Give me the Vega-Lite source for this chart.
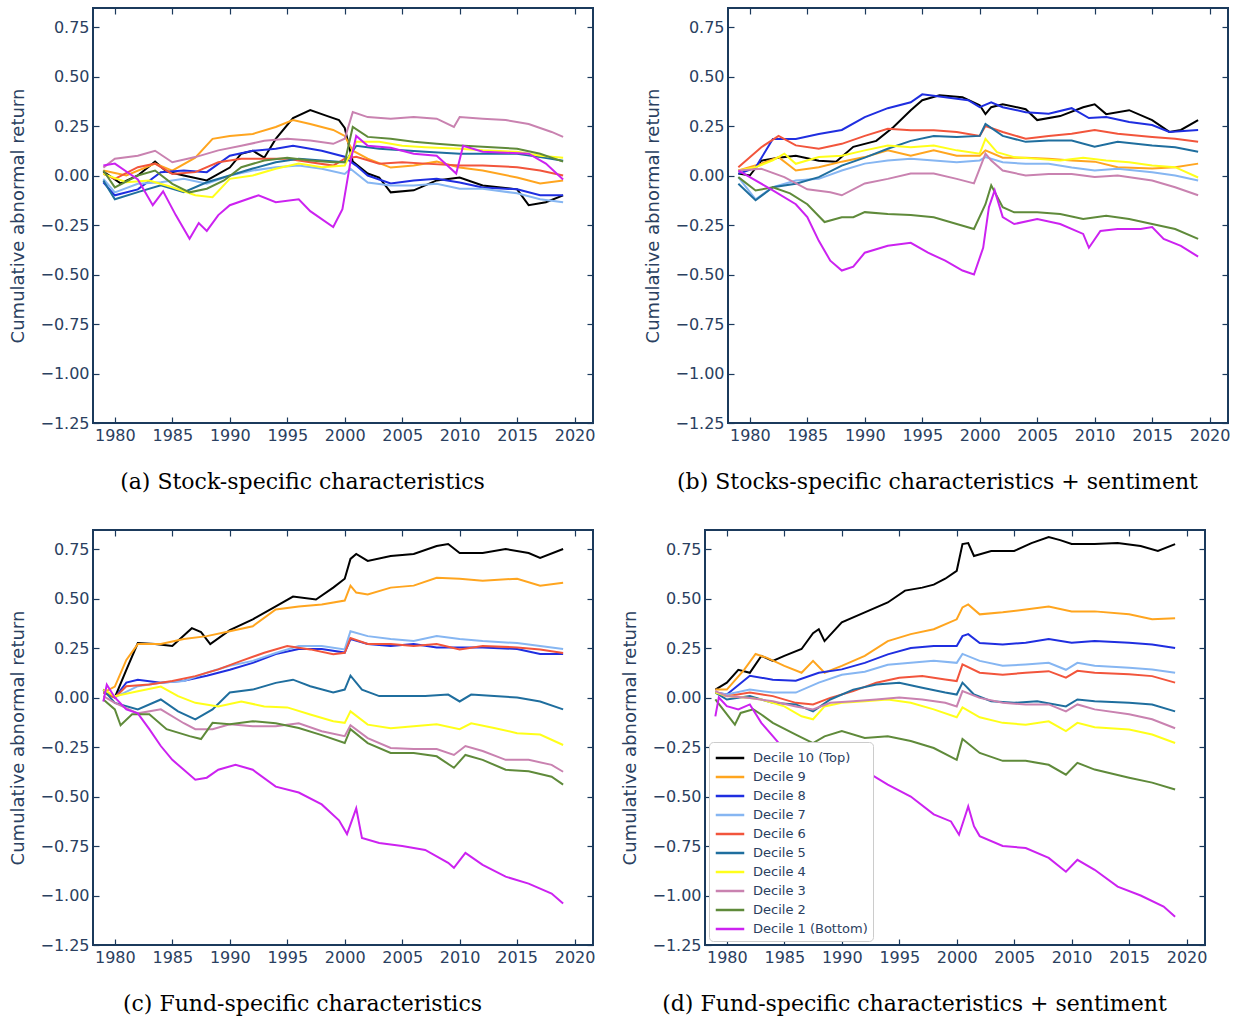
{
"$schema":"https://vega.github.io/schema/vega-lite/v6.json",
"padding":{"left":8,"top":6,"right":4,"bottom":4},
"background":"white",
"config":{
"view":{"stroke":"#1b3a5c","strokeWidth":2},
"font":"DejaVu Sans",
"axis":{"labelFont":"DejaVu Sans","labelFontSize":16,"labelColor":"#2a4060","titleFont":"DejaVu Sans","titleFontSize":18,"titleFontWeight":"normal","titleColor":"#2a4060","titlePadding":12,"domain":false,"grid":false,"tickColor":"#1b3a5c","tickSize":-6,"tickWidth":1.2,"labelPadding":10,"labelFlush":false},
"title":{"font":"DejaVu Serif","fontSize":22,"fontWeight":"normal","color":"#000000","orient":"bottom","anchor":"middle","frame":"bounds","offset":29},
"legend":{"labelFont":"DejaVu Sans","labelFontSize":13,"labelColor":"#2a4060"}
},
"datasets":{
"a":[
{"s":"Decile 10 (Top)","x":1979,"y":0.02},{"s":"Decile 10 (Top)","x":1980.5,"y":-0.04},{"s":"Decile 10 (Top)","x":1982,"y":0.0},{"s":"Decile 10 (Top)","x":1983.5,"y":0.07},{"s":"Decile 10 (Top)","x":1984.5,"y":0.02},{"s":"Decile 10 (Top)","x":1986,"y":0.0},{"s":"Decile 10 (Top)","x":1988,"y":-0.025},{"s":"Decile 10 (Top)","x":1990,"y":0.04},{"s":"Decile 10 (Top)","x":1991,"y":0.11},{"s":"Decile 10 (Top)","x":1992,"y":0.125},{"s":"Decile 10 (Top)","x":1993,"y":0.09},{"s":"Decile 10 (Top)","x":1994,"y":0.185},{"s":"Decile 10 (Top)","x":1995.5,"y":0.29},{"s":"Decile 10 (Top)","x":1997,"y":0.33},{"s":"Decile 10 (Top)","x":1998.5,"y":0.3},{"s":"Decile 10 (Top)","x":1999.5,"y":0.28},{"s":"Decile 10 (Top)","x":2000,"y":0.24},{"s":"Decile 10 (Top)","x":2000.7,"y":0.07},{"s":"Decile 10 (Top)","x":2002,"y":0.01},{"s":"Decile 10 (Top)","x":2003,"y":-0.01},{"s":"Decile 10 (Top)","x":2004,"y":-0.085},{"s":"Decile 10 (Top)","x":2006,"y":-0.075},{"s":"Decile 10 (Top)","x":2008,"y":-0.025},{"s":"Decile 10 (Top)","x":2010,"y":-0.01},{"s":"Decile 10 (Top)","x":2012,"y":-0.05},{"s":"Decile 10 (Top)","x":2015,"y":-0.07},{"s":"Decile 10 (Top)","x":2016,"y":-0.15},{"s":"Decile 10 (Top)","x":2017.5,"y":-0.135},{"s":"Decile 10 (Top)","x":2019,"y":-0.1},
{"s":"Decile 9","x":1979,"y":0.025},{"s":"Decile 9","x":1981,"y":0.0},{"s":"Decile 9","x":1983.5,"y":0.06},{"s":"Decile 9","x":1985,"y":0.025},{"s":"Decile 9","x":1987,"y":0.09},{"s":"Decile 9","x":1988.5,"y":0.185},{"s":"Decile 9","x":1990,"y":0.2},{"s":"Decile 9","x":1992,"y":0.21},{"s":"Decile 9","x":1994,"y":0.245},{"s":"Decile 9","x":1995.5,"y":0.28},{"s":"Decile 9","x":1997,"y":0.26},{"s":"Decile 9","x":1999,"y":0.23},{"s":"Decile 9","x":2000,"y":0.2},{"s":"Decile 9","x":2000.7,"y":0.125},{"s":"Decile 9","x":2002,"y":0.085},{"s":"Decile 9","x":2004,"y":0.04},{"s":"Decile 9","x":2006,"y":0.05},{"s":"Decile 9","x":2008,"y":0.07},{"s":"Decile 9","x":2010,"y":0.04},{"s":"Decile 9","x":2012,"y":0.025},{"s":"Decile 9","x":2015,"y":-0.01},{"s":"Decile 9","x":2017,"y":-0.04},{"s":"Decile 9","x":2019,"y":-0.025},
{"s":"Decile 8","x":1979,"y":-0.035},{"s":"Decile 8","x":1980,"y":-0.1},{"s":"Decile 8","x":1982,"y":-0.07},{"s":"Decile 8","x":1984,"y":0.017},{"s":"Decile 8","x":1986,"y":0.025},{"s":"Decile 8","x":1988,"y":0.017},{"s":"Decile 8","x":1990,"y":0.1},{"s":"Decile 8","x":1992,"y":0.125},{"s":"Decile 8","x":1994,"y":0.135},{"s":"Decile 8","x":1995.5,"y":0.15},{"s":"Decile 8","x":1998,"y":0.125},{"s":"Decile 8","x":2000,"y":0.095},{"s":"Decile 8","x":2000.5,"y":0.07},{"s":"Decile 8","x":2001,"y":0.05},{"s":"Decile 8","x":2002,"y":0.0},{"s":"Decile 8","x":2004,"y":-0.04},{"s":"Decile 8","x":2006,"y":-0.025},{"s":"Decile 8","x":2008,"y":-0.017},{"s":"Decile 8","x":2010,"y":-0.035},{"s":"Decile 8","x":2012,"y":-0.06},{"s":"Decile 8","x":2015,"y":-0.07},{"s":"Decile 8","x":2017,"y":-0.1},{"s":"Decile 8","x":2019,"y":-0.1},
{"s":"Decile 7","x":1979,"y":-0.017},{"s":"Decile 7","x":1980,"y":-0.085},{"s":"Decile 7","x":1982,"y":-0.042},{"s":"Decile 7","x":1984,"y":-0.034},{"s":"Decile 7","x":1986,"y":-0.017},{"s":"Decile 7","x":1988,"y":-0.042},{"s":"Decile 7","x":1990,"y":0.0},{"s":"Decile 7","x":1992,"y":0.025},{"s":"Decile 7","x":1994,"y":0.042},{"s":"Decile 7","x":1996,"y":0.05},{"s":"Decile 7","x":1998,"y":0.034},{"s":"Decile 7","x":2000,"y":0.008},{"s":"Decile 7","x":2000.5,"y":0.034},{"s":"Decile 7","x":2002,"y":-0.035},{"s":"Decile 7","x":2004,"y":-0.05},{"s":"Decile 7","x":2006,"y":-0.05},{"s":"Decile 7","x":2008,"y":-0.042},{"s":"Decile 7","x":2010,"y":-0.067},{"s":"Decile 7","x":2012,"y":-0.067},{"s":"Decile 7","x":2015,"y":-0.09},{"s":"Decile 7","x":2017,"y":-0.12},{"s":"Decile 7","x":2019,"y":-0.135},
{"s":"Decile 6","x":1979,"y":0.008},{"s":"Decile 6","x":1980,"y":-0.017},{"s":"Decile 6","x":1982,"y":0.042},{"s":"Decile 6","x":1983.5,"y":0.06},{"s":"Decile 6","x":1985,"y":0.008},{"s":"Decile 6","x":1987,"y":0.017},{"s":"Decile 6","x":1989,"y":0.067},{"s":"Decile 6","x":1991,"y":0.085},{"s":"Decile 6","x":1993,"y":0.085},{"s":"Decile 6","x":1995,"y":0.085},{"s":"Decile 6","x":1997,"y":0.067},{"s":"Decile 6","x":1999,"y":0.05},{"s":"Decile 6","x":2000,"y":0.085},{"s":"Decile 6","x":2001,"y":0.095},{"s":"Decile 6","x":2003,"y":0.06},{"s":"Decile 6","x":2005,"y":0.067},{"s":"Decile 6","x":2007,"y":0.06},{"s":"Decile 6","x":2010,"y":0.05},{"s":"Decile 6","x":2012,"y":0.05},{"s":"Decile 6","x":2015,"y":0.042},{"s":"Decile 6","x":2017,"y":0.025},{"s":"Decile 6","x":2019,"y":0.0},
{"s":"Decile 5","x":1979,"y":-0.025},{"s":"Decile 5","x":1980,"y":-0.12},{"s":"Decile 5","x":1982,"y":-0.084},{"s":"Decile 5","x":1984,"y":-0.05},{"s":"Decile 5","x":1986,"y":-0.084},{"s":"Decile 5","x":1988,"y":-0.034},{"s":"Decile 5","x":1990,"y":0.0},{"s":"Decile 5","x":1992,"y":0.035},{"s":"Decile 5","x":1994,"y":0.067},{"s":"Decile 5","x":1996,"y":0.085},{"s":"Decile 5","x":1998,"y":0.076},{"s":"Decile 5","x":2000,"y":0.067},{"s":"Decile 5","x":2001,"y":0.15},{"s":"Decile 5","x":2003,"y":0.135},{"s":"Decile 5","x":2005,"y":0.127},{"s":"Decile 5","x":2007,"y":0.12},{"s":"Decile 5","x":2010,"y":0.11},{"s":"Decile 5","x":2012,"y":0.11},{"s":"Decile 5","x":2015,"y":0.11},{"s":"Decile 5","x":2017,"y":0.093},{"s":"Decile 5","x":2019,"y":0.075},
{"s":"Decile 4","x":1979,"y":0.008},{"s":"Decile 4","x":1981,"y":-0.034},{"s":"Decile 4","x":1983,"y":-0.025},{"s":"Decile 4","x":1985,"y":-0.059},{"s":"Decile 4","x":1987,"y":-0.1},{"s":"Decile 4","x":1988.5,"y":-0.11},{"s":"Decile 4","x":1990,"y":-0.017},{"s":"Decile 4","x":1992,"y":0.0},{"s":"Decile 4","x":1994,"y":0.034},{"s":"Decile 4","x":1996,"y":0.06},{"s":"Decile 4","x":1998,"y":0.042},{"s":"Decile 4","x":2000,"y":0.05},{"s":"Decile 4","x":2001,"y":0.17},{"s":"Decile 4","x":2003,"y":0.17},{"s":"Decile 4","x":2005,"y":0.15},{"s":"Decile 4","x":2007,"y":0.143},{"s":"Decile 4","x":2010,"y":0.135},{"s":"Decile 4","x":2012,"y":0.127},{"s":"Decile 4","x":2015,"y":0.12},{"s":"Decile 4","x":2017,"y":0.1},{"s":"Decile 4","x":2019,"y":0.09},
{"s":"Decile 3","x":1979,"y":0.04},{"s":"Decile 3","x":1980,"y":0.085},{"s":"Decile 3","x":1982,"y":0.1},{"s":"Decile 3","x":1983.5,"y":0.125},{"s":"Decile 3","x":1985,"y":0.067},{"s":"Decile 3","x":1987,"y":0.093},{"s":"Decile 3","x":1989,"y":0.127},{"s":"Decile 3","x":1991,"y":0.15},{"s":"Decile 3","x":1993,"y":0.175},{"s":"Decile 3","x":1995,"y":0.185},{"s":"Decile 3","x":1997,"y":0.177},{"s":"Decile 3","x":1999,"y":0.16},{"s":"Decile 3","x":2000,"y":0.186},{"s":"Decile 3","x":2000.7,"y":0.32},{"s":"Decile 3","x":2002,"y":0.295},{"s":"Decile 3","x":2004,"y":0.287},{"s":"Decile 3","x":2006,"y":0.295},{"s":"Decile 3","x":2008,"y":0.287},{"s":"Decile 3","x":2009.5,"y":0.245},{"s":"Decile 3","x":2010,"y":0.295},{"s":"Decile 3","x":2012,"y":0.287},{"s":"Decile 3","x":2014,"y":0.28},{"s":"Decile 3","x":2016,"y":0.26},{"s":"Decile 3","x":2018,"y":0.22},{"s":"Decile 3","x":2019,"y":0.195},
{"s":"Decile 2","x":1979,"y":0.025},{"s":"Decile 2","x":1980,"y":-0.06},{"s":"Decile 2","x":1982,"y":0.0},{"s":"Decile 2","x":1983.5,"y":0.025},{"s":"Decile 2","x":1985,"y":-0.042},{"s":"Decile 2","x":1986.5,"y":-0.085},{"s":"Decile 2","x":1988,"y":-0.067},{"s":"Decile 2","x":1989.5,"y":-0.025},{"s":"Decile 2","x":1991,"y":0.042},{"s":"Decile 2","x":1993,"y":0.076},{"s":"Decile 2","x":1995,"y":0.09},{"s":"Decile 2","x":1997,"y":0.076},{"s":"Decile 2","x":1999,"y":0.067},{"s":"Decile 2","x":2000,"y":0.067},{"s":"Decile 2","x":2000.7,"y":0.245},{"s":"Decile 2","x":2002,"y":0.195},{"s":"Decile 2","x":2004,"y":0.186},{"s":"Decile 2","x":2006,"y":0.17},{"s":"Decile 2","x":2008,"y":0.16},{"s":"Decile 2","x":2010,"y":0.152},{"s":"Decile 2","x":2012,"y":0.145},{"s":"Decile 2","x":2015,"y":0.135},{"s":"Decile 2","x":2017,"y":0.11},{"s":"Decile 2","x":2019,"y":0.07},
{"s":"Decile 1 (Bottom)","x":1979,"y":0.05},{"s":"Decile 1 (Bottom)","x":1980,"y":0.06},{"s":"Decile 1 (Bottom)","x":1981,"y":0.02},{"s":"Decile 1 (Bottom)","x":1982,"y":-0.02},{"s":"Decile 1 (Bottom)","x":1983.3,"y":-0.15},{"s":"Decile 1 (Bottom)","x":1984.2,"y":-0.08},{"s":"Decile 1 (Bottom)","x":1985.3,"y":-0.2},{"s":"Decile 1 (Bottom)","x":1986.5,"y":-0.32},{"s":"Decile 1 (Bottom)","x":1987.3,"y":-0.24},{"s":"Decile 1 (Bottom)","x":1988,"y":-0.28},{"s":"Decile 1 (Bottom)","x":1989,"y":-0.2},{"s":"Decile 1 (Bottom)","x":1990,"y":-0.15},{"s":"Decile 1 (Bottom)","x":1992.5,"y":-0.1},{"s":"Decile 1 (Bottom)","x":1994,"y":-0.135},{"s":"Decile 1 (Bottom)","x":1996,"y":-0.12},{"s":"Decile 1 (Bottom)","x":1997,"y":-0.18},{"s":"Decile 1 (Bottom)","x":1999,"y":-0.26},{"s":"Decile 1 (Bottom)","x":1999.8,"y":-0.17},{"s":"Decile 1 (Bottom)","x":2000.5,"y":0.07},{"s":"Decile 1 (Bottom)","x":2001,"y":0.2},{"s":"Decile 1 (Bottom)","x":2002,"y":0.15},{"s":"Decile 1 (Bottom)","x":2004,"y":0.14},{"s":"Decile 1 (Bottom)","x":2006,"y":0.11},{"s":"Decile 1 (Bottom)","x":2008,"y":0.1},{"s":"Decile 1 (Bottom)","x":2009.7,"y":0.01},{"s":"Decile 1 (Bottom)","x":2010.3,"y":0.15},{"s":"Decile 1 (Bottom)","x":2012,"y":0.12},{"s":"Decile 1 (Bottom)","x":2014,"y":0.115},{"s":"Decile 1 (Bottom)","x":2016,"y":0.11},{"s":"Decile 1 (Bottom)","x":2017.5,"y":0.06},{"s":"Decile 1 (Bottom)","x":2019,"y":-0.02}
],
"b":[
{"s":"Decile 10 (Top)","x":1979,"y":0.01},{"s":"Decile 10 (Top)","x":1980,"y":0.0},{"s":"Decile 10 (Top)","x":1981,"y":0.075},{"s":"Decile 10 (Top)","x":1982.5,"y":0.09},{"s":"Decile 10 (Top)","x":1984,"y":0.1},{"s":"Decile 10 (Top)","x":1986,"y":0.075},{"s":"Decile 10 (Top)","x":1987.5,"y":0.07},{"s":"Decile 10 (Top)","x":1989,"y":0.145},{"s":"Decile 10 (Top)","x":1991,"y":0.175},{"s":"Decile 10 (Top)","x":1992.5,"y":0.245},{"s":"Decile 10 (Top)","x":1994,"y":0.33},{"s":"Decile 10 (Top)","x":1995,"y":0.38},{"s":"Decile 10 (Top)","x":1996.5,"y":0.405},{"s":"Decile 10 (Top)","x":1998.5,"y":0.395},{"s":"Decile 10 (Top)","x":2000,"y":0.355},{"s":"Decile 10 (Top)","x":2000.5,"y":0.31},{"s":"Decile 10 (Top)","x":2001,"y":0.345},{"s":"Decile 10 (Top)","x":2002,"y":0.36},{"s":"Decile 10 (Top)","x":2004,"y":0.335},{"s":"Decile 10 (Top)","x":2005,"y":0.28},{"s":"Decile 10 (Top)","x":2007,"y":0.3},{"s":"Decile 10 (Top)","x":2009,"y":0.345},{"s":"Decile 10 (Top)","x":2010,"y":0.36},{"s":"Decile 10 (Top)","x":2011,"y":0.31},{"s":"Decile 10 (Top)","x":2013,"y":0.33},{"s":"Decile 10 (Top)","x":2015,"y":0.28},{"s":"Decile 10 (Top)","x":2016.5,"y":0.22},{"s":"Decile 10 (Top)","x":2017.5,"y":0.23},{"s":"Decile 10 (Top)","x":2019,"y":0.28},
{"s":"Decile 9","x":1979,"y":0.025},{"s":"Decile 9","x":1981,"y":0.06},{"s":"Decile 9","x":1982.5,"y":0.093},{"s":"Decile 9","x":1984,"y":0.025},{"s":"Decile 9","x":1986,"y":0.042},{"s":"Decile 9","x":1988,"y":0.07},{"s":"Decile 9","x":1990,"y":0.093},{"s":"Decile 9","x":1992,"y":0.127},{"s":"Decile 9","x":1994,"y":0.1},{"s":"Decile 9","x":1996,"y":0.127},{"s":"Decile 9","x":1998,"y":0.1},{"s":"Decile 9","x":2000,"y":0.1},{"s":"Decile 9","x":2000.5,"y":0.127},{"s":"Decile 9","x":2002,"y":0.09},{"s":"Decile 9","x":2004,"y":0.09},{"s":"Decile 9","x":2006,"y":0.084},{"s":"Decile 9","x":2008,"y":0.076},{"s":"Decile 9","x":2010,"y":0.07},{"s":"Decile 9","x":2012,"y":0.042},{"s":"Decile 9","x":2015,"y":0.035},{"s":"Decile 9","x":2017,"y":0.042},{"s":"Decile 9","x":2019,"y":0.06},
{"s":"Decile 8","x":1979,"y":0.008},{"s":"Decile 8","x":1980.5,"y":0.04},{"s":"Decile 8","x":1982,"y":0.185},{"s":"Decile 8","x":1984,"y":0.185},{"s":"Decile 8","x":1986,"y":0.21},{"s":"Decile 8","x":1988,"y":0.23},{"s":"Decile 8","x":1990,"y":0.295},{"s":"Decile 8","x":1992,"y":0.34},{"s":"Decile 8","x":1994,"y":0.37},{"s":"Decile 8","x":1995,"y":0.41},{"s":"Decile 8","x":1997,"y":0.395},{"s":"Decile 8","x":1999,"y":0.38},{"s":"Decile 8","x":2000,"y":0.345},{"s":"Decile 8","x":2001,"y":0.37},{"s":"Decile 8","x":2002,"y":0.345},{"s":"Decile 8","x":2004,"y":0.32},{"s":"Decile 8","x":2006,"y":0.312},{"s":"Decile 8","x":2008,"y":0.34},{"s":"Decile 8","x":2009.5,"y":0.29},{"s":"Decile 8","x":2011,"y":0.295},{"s":"Decile 8","x":2013,"y":0.27},{"s":"Decile 8","x":2015,"y":0.255},{"s":"Decile 8","x":2016.5,"y":0.22},{"s":"Decile 8","x":2019,"y":0.23},
{"s":"Decile 7","x":1979,"y":-0.008},{"s":"Decile 7","x":1980.5,"y":-0.12},{"s":"Decile 7","x":1982,"y":-0.059},{"s":"Decile 7","x":1984,"y":-0.025},{"s":"Decile 7","x":1986,"y":-0.017},{"s":"Decile 7","x":1988,"y":0.025},{"s":"Decile 7","x":1990,"y":0.06},{"s":"Decile 7","x":1992,"y":0.076},{"s":"Decile 7","x":1994,"y":0.085},{"s":"Decile 7","x":1996,"y":0.076},{"s":"Decile 7","x":1998,"y":0.067},{"s":"Decile 7","x":2000,"y":0.076},{"s":"Decile 7","x":2000.5,"y":0.093},{"s":"Decile 7","x":2002,"y":0.067},{"s":"Decile 7","x":2004,"y":0.059},{"s":"Decile 7","x":2006,"y":0.059},{"s":"Decile 7","x":2008,"y":0.04},{"s":"Decile 7","x":2010,"y":0.025},{"s":"Decile 7","x":2012,"y":0.034},{"s":"Decile 7","x":2015,"y":0.017},{"s":"Decile 7","x":2017,"y":0.0},{"s":"Decile 7","x":2019,"y":-0.025},
{"s":"Decile 6","x":1979,"y":0.042},{"s":"Decile 6","x":1981,"y":0.143},{"s":"Decile 6","x":1982.5,"y":0.2},{"s":"Decile 6","x":1984,"y":0.152},{"s":"Decile 6","x":1986,"y":0.135},{"s":"Decile 6","x":1988,"y":0.16},{"s":"Decile 6","x":1990,"y":0.2},{"s":"Decile 6","x":1992,"y":0.236},{"s":"Decile 6","x":1994,"y":0.228},{"s":"Decile 6","x":1996,"y":0.228},{"s":"Decile 6","x":1998,"y":0.22},{"s":"Decile 6","x":2000,"y":0.2},{"s":"Decile 6","x":2000.5,"y":0.25},{"s":"Decile 6","x":2002,"y":0.22},{"s":"Decile 6","x":2004,"y":0.186},{"s":"Decile 6","x":2006,"y":0.2},{"s":"Decile 6","x":2008,"y":0.211},{"s":"Decile 6","x":2010,"y":0.23},{"s":"Decile 6","x":2012,"y":0.211},{"s":"Decile 6","x":2015,"y":0.195},{"s":"Decile 6","x":2017,"y":0.186},{"s":"Decile 6","x":2019,"y":0.17},
{"s":"Decile 5","x":1979,"y":-0.042},{"s":"Decile 5","x":1980.5,"y":-0.125},{"s":"Decile 5","x":1982,"y":-0.059},{"s":"Decile 5","x":1984,"y":-0.042},{"s":"Decile 5","x":1986,"y":-0.008},{"s":"Decile 5","x":1988,"y":0.05},{"s":"Decile 5","x":1990,"y":0.09},{"s":"Decile 5","x":1992,"y":0.135},{"s":"Decile 5","x":1994,"y":0.175},{"s":"Decile 5","x":1996,"y":0.2},{"s":"Decile 5","x":1998,"y":0.194},{"s":"Decile 5","x":2000,"y":0.2},{"s":"Decile 5","x":2000.5,"y":0.26},{"s":"Decile 5","x":2002,"y":0.2},{"s":"Decile 5","x":2004,"y":0.17},{"s":"Decile 5","x":2006,"y":0.177},{"s":"Decile 5","x":2008,"y":0.177},{"s":"Decile 5","x":2010,"y":0.145},{"s":"Decile 5","x":2012,"y":0.17},{"s":"Decile 5","x":2015,"y":0.152},{"s":"Decile 5","x":2017,"y":0.143},{"s":"Decile 5","x":2019,"y":0.12},
{"s":"Decile 4","x":1979,"y":0.025},{"s":"Decile 4","x":1980.5,"y":0.042},{"s":"Decile 4","x":1982,"y":0.076},{"s":"Decile 4","x":1983,"y":0.11},{"s":"Decile 4","x":1984,"y":0.059},{"s":"Decile 4","x":1986,"y":0.093},{"s":"Decile 4","x":1988,"y":0.1},{"s":"Decile 4","x":1990,"y":0.127},{"s":"Decile 4","x":1992,"y":0.152},{"s":"Decile 4","x":1994,"y":0.143},{"s":"Decile 4","x":1996,"y":0.152},{"s":"Decile 4","x":1998,"y":0.127},{"s":"Decile 4","x":2000,"y":0.11},{"s":"Decile 4","x":2000.5,"y":0.185},{"s":"Decile 4","x":2001.5,"y":0.118},{"s":"Decile 4","x":2003,"y":0.093},{"s":"Decile 4","x":2005,"y":0.084},{"s":"Decile 4","x":2007,"y":0.076},{"s":"Decile 4","x":2009,"y":0.09},{"s":"Decile 4","x":2011,"y":0.076},{"s":"Decile 4","x":2013,"y":0.067},{"s":"Decile 4","x":2015,"y":0.05},{"s":"Decile 4","x":2017,"y":0.042},{"s":"Decile 4","x":2019,"y":-0.01},
{"s":"Decile 3","x":1979,"y":0.025},{"s":"Decile 3","x":1981,"y":0.034},{"s":"Decile 3","x":1983,"y":-0.008},{"s":"Decile 3","x":1985,"y":-0.07},{"s":"Decile 3","x":1987,"y":-0.085},{"s":"Decile 3","x":1988,"y":-0.1},{"s":"Decile 3","x":1990,"y":-0.04},{"s":"Decile 3","x":1992,"y":-0.017},{"s":"Decile 3","x":1994,"y":0.01},{"s":"Decile 3","x":1996,"y":0.01},{"s":"Decile 3","x":1998,"y":-0.017},{"s":"Decile 3","x":1999.5,"y":-0.04},{"s":"Decile 3","x":2000.5,"y":0.11},{"s":"Decile 3","x":2001,"y":0.076},{"s":"Decile 3","x":2002,"y":0.025},{"s":"Decile 3","x":2004,"y":0.0},{"s":"Decile 3","x":2006,"y":0.008},{"s":"Decile 3","x":2008,"y":0.008},{"s":"Decile 3","x":2010,"y":-0.008},{"s":"Decile 3","x":2012,"y":0.0},{"s":"Decile 3","x":2015,"y":-0.025},{"s":"Decile 3","x":2017,"y":-0.059},{"s":"Decile 3","x":2019,"y":-0.1},
{"s":"Decile 2","x":1979,"y":-0.008},{"s":"Decile 2","x":1980.5,"y":-0.076},{"s":"Decile 2","x":1982,"y":-0.059},{"s":"Decile 2","x":1983.5,"y":-0.09},{"s":"Decile 2","x":1985,"y":-0.145},{"s":"Decile 2","x":1986.5,"y":-0.235},{"s":"Decile 2","x":1988,"y":-0.211},{"s":"Decile 2","x":1989,"y":-0.211},{"s":"Decile 2","x":1990,"y":-0.185},{"s":"Decile 2","x":1992,"y":-0.194},{"s":"Decile 2","x":1994,"y":-0.2},{"s":"Decile 2","x":1996,"y":-0.211},{"s":"Decile 2","x":1998,"y":-0.245},{"s":"Decile 2","x":1999.5,"y":-0.27},{"s":"Decile 2","x":2000.5,"y":-0.145},{"s":"Decile 2","x":2001,"y":-0.05},{"s":"Decile 2","x":2002,"y":-0.16},{"s":"Decile 2","x":2003,"y":-0.186},{"s":"Decile 2","x":2005,"y":-0.185},{"s":"Decile 2","x":2007,"y":-0.194},{"s":"Decile 2","x":2009,"y":-0.22},{"s":"Decile 2","x":2011,"y":-0.203},{"s":"Decile 2","x":2013,"y":-0.22},{"s":"Decile 2","x":2015,"y":-0.245},{"s":"Decile 2","x":2017,"y":-0.27},{"s":"Decile 2","x":2019,"y":-0.32},
{"s":"Decile 1 (Bottom)","x":1979,"y":0.025},{"s":"Decile 1 (Bottom)","x":1980,"y":-0.008},{"s":"Decile 1 (Bottom)","x":1982,"y":-0.075},{"s":"Decile 1 (Bottom)","x":1984,"y":-0.145},{"s":"Decile 1 (Bottom)","x":1985,"y":-0.21},{"s":"Decile 1 (Bottom)","x":1986,"y":-0.33},{"s":"Decile 1 (Bottom)","x":1987,"y":-0.43},{"s":"Decile 1 (Bottom)","x":1988,"y":-0.48},{"s":"Decile 1 (Bottom)","x":1989,"y":-0.46},{"s":"Decile 1 (Bottom)","x":1990,"y":-0.39},{"s":"Decile 1 (Bottom)","x":1992,"y":-0.355},{"s":"Decile 1 (Bottom)","x":1994,"y":-0.34},{"s":"Decile 1 (Bottom)","x":1995.5,"y":-0.39},{"s":"Decile 1 (Bottom)","x":1997,"y":-0.43},{"s":"Decile 1 (Bottom)","x":1998.5,"y":-0.48},{"s":"Decile 1 (Bottom)","x":1999.5,"y":-0.5},{"s":"Decile 1 (Bottom)","x":2000.3,"y":-0.365},{"s":"Decile 1 (Bottom)","x":2000.8,"y":-0.16},{"s":"Decile 1 (Bottom)","x":2001.3,"y":-0.075},{"s":"Decile 1 (Bottom)","x":2002,"y":-0.21},{"s":"Decile 1 (Bottom)","x":2003,"y":-0.245},{"s":"Decile 1 (Bottom)","x":2005,"y":-0.22},{"s":"Decile 1 (Bottom)","x":2007,"y":-0.245},{"s":"Decile 1 (Bottom)","x":2009,"y":-0.295},{"s":"Decile 1 (Bottom)","x":2009.5,"y":-0.365},{"s":"Decile 1 (Bottom)","x":2010.5,"y":-0.28},{"s":"Decile 1 (Bottom)","x":2012,"y":-0.27},{"s":"Decile 1 (Bottom)","x":2014,"y":-0.27},{"s":"Decile 1 (Bottom)","x":2015,"y":-0.26},{"s":"Decile 1 (Bottom)","x":2016,"y":-0.32},{"s":"Decile 1 (Bottom)","x":2017.5,"y":-0.355},{"s":"Decile 1 (Bottom)","x":2019,"y":-0.41}
],
"c":[
{"s":"Decile 10 (Top)","x":1979,"y":0.04},{"s":"Decile 10 (Top)","x":1980,"y":0.0},{"s":"Decile 10 (Top)","x":1981,"y":0.14},{"s":"Decile 10 (Top)","x":1982,"y":0.275},{"s":"Decile 10 (Top)","x":1983.5,"y":0.27},{"s":"Decile 10 (Top)","x":1985,"y":0.26},{"s":"Decile 10 (Top)","x":1986.7,"y":0.35},{"s":"Decile 10 (Top)","x":1987.5,"y":0.33},{"s":"Decile 10 (Top)","x":1988.3,"y":0.27},{"s":"Decile 10 (Top)","x":1990,"y":0.34},{"s":"Decile 10 (Top)","x":1992,"y":0.395},{"s":"Decile 10 (Top)","x":1994,"y":0.46},{"s":"Decile 10 (Top)","x":1995.5,"y":0.51},{"s":"Decile 10 (Top)","x":1997.5,"y":0.495},{"s":"Decile 10 (Top)","x":1999,"y":0.555},{"s":"Decile 10 (Top)","x":2000,"y":0.6},{"s":"Decile 10 (Top)","x":2000.5,"y":0.7},{"s":"Decile 10 (Top)","x":2001,"y":0.725},{"s":"Decile 10 (Top)","x":2002,"y":0.69},{"s":"Decile 10 (Top)","x":2004,"y":0.715},{"s":"Decile 10 (Top)","x":2006,"y":0.725},{"s":"Decile 10 (Top)","x":2008,"y":0.765},{"s":"Decile 10 (Top)","x":2009,"y":0.775},{"s":"Decile 10 (Top)","x":2010,"y":0.73},{"s":"Decile 10 (Top)","x":2012,"y":0.73},{"s":"Decile 10 (Top)","x":2014,"y":0.75},{"s":"Decile 10 (Top)","x":2016,"y":0.73},{"s":"Decile 10 (Top)","x":2017,"y":0.705},{"s":"Decile 10 (Top)","x":2019,"y":0.75},
{"s":"Decile 9","x":1979,"y":0.025},{"s":"Decile 9","x":1980,"y":0.055},{"s":"Decile 9","x":1981,"y":0.19},{"s":"Decile 9","x":1982,"y":0.27},{"s":"Decile 9","x":1984,"y":0.27},{"s":"Decile 9","x":1986,"y":0.295},{"s":"Decile 9","x":1988,"y":0.31},{"s":"Decile 9","x":1990,"y":0.335},{"s":"Decile 9","x":1992,"y":0.36},{"s":"Decile 9","x":1994,"y":0.445},{"s":"Decile 9","x":1996,"y":0.46},{"s":"Decile 9","x":1998,"y":0.47},{"s":"Decile 9","x":2000,"y":0.49},{"s":"Decile 9","x":2000.5,"y":0.565},{"s":"Decile 9","x":2001,"y":0.53},{"s":"Decile 9","x":2002,"y":0.52},{"s":"Decile 9","x":2004,"y":0.555},{"s":"Decile 9","x":2006,"y":0.565},{"s":"Decile 9","x":2008,"y":0.605},{"s":"Decile 9","x":2010,"y":0.6},{"s":"Decile 9","x":2012,"y":0.59},{"s":"Decile 9","x":2015,"y":0.6},{"s":"Decile 9","x":2017,"y":0.565},{"s":"Decile 9","x":2019,"y":0.58},
{"s":"Decile 8","x":1979,"y":0.025},{"s":"Decile 8","x":1980,"y":0.0},{"s":"Decile 8","x":1981,"y":0.075},{"s":"Decile 8","x":1982,"y":0.09},{"s":"Decile 8","x":1984,"y":0.075},{"s":"Decile 8","x":1986,"y":0.085},{"s":"Decile 8","x":1988,"y":0.11},{"s":"Decile 8","x":1990,"y":0.14},{"s":"Decile 8","x":1992,"y":0.175},{"s":"Decile 8","x":1994,"y":0.22},{"s":"Decile 8","x":1996,"y":0.245},{"s":"Decile 8","x":1998,"y":0.245},{"s":"Decile 8","x":2000,"y":0.227},{"s":"Decile 8","x":2000.5,"y":0.295},{"s":"Decile 8","x":2002,"y":0.27},{"s":"Decile 8","x":2004,"y":0.26},{"s":"Decile 8","x":2006,"y":0.27},{"s":"Decile 8","x":2008,"y":0.253},{"s":"Decile 8","x":2010,"y":0.253},{"s":"Decile 8","x":2012,"y":0.253},{"s":"Decile 8","x":2015,"y":0.245},{"s":"Decile 8","x":2017,"y":0.22},{"s":"Decile 8","x":2019,"y":0.22},
{"s":"Decile 7","x":1979,"y":0.025},{"s":"Decile 7","x":1980,"y":0.0},{"s":"Decile 7","x":1982,"y":0.057},{"s":"Decile 7","x":1984,"y":0.075},{"s":"Decile 7","x":1986,"y":0.083},{"s":"Decile 7","x":1988,"y":0.125},{"s":"Decile 7","x":1990,"y":0.16},{"s":"Decile 7","x":1992,"y":0.185},{"s":"Decile 7","x":1994,"y":0.225},{"s":"Decile 7","x":1996,"y":0.26},{"s":"Decile 7","x":1998,"y":0.26},{"s":"Decile 7","x":2000,"y":0.243},{"s":"Decile 7","x":2000.5,"y":0.335},{"s":"Decile 7","x":2002,"y":0.31},{"s":"Decile 7","x":2004,"y":0.295},{"s":"Decile 7","x":2006,"y":0.285},{"s":"Decile 7","x":2008,"y":0.31},{"s":"Decile 7","x":2010,"y":0.295},{"s":"Decile 7","x":2012,"y":0.285},{"s":"Decile 7","x":2015,"y":0.275},{"s":"Decile 7","x":2017,"y":0.26},{"s":"Decile 7","x":2019,"y":0.245},
{"s":"Decile 6","x":1979,"y":0.025},{"s":"Decile 6","x":1980,"y":0.0},{"s":"Decile 6","x":1981,"y":0.057},{"s":"Decile 6","x":1983,"y":0.066},{"s":"Decile 6","x":1985,"y":0.083},{"s":"Decile 6","x":1987,"y":0.108},{"s":"Decile 6","x":1989,"y":0.142},{"s":"Decile 6","x":1991,"y":0.185},{"s":"Decile 6","x":1993,"y":0.226},{"s":"Decile 6","x":1995,"y":0.26},{"s":"Decile 6","x":1997,"y":0.243},{"s":"Decile 6","x":1999,"y":0.218},{"s":"Decile 6","x":2000,"y":0.226},{"s":"Decile 6","x":2000.5,"y":0.3},{"s":"Decile 6","x":2002,"y":0.27},{"s":"Decile 6","x":2004,"y":0.27},{"s":"Decile 6","x":2006,"y":0.26},{"s":"Decile 6","x":2008,"y":0.27},{"s":"Decile 6","x":2010,"y":0.243},{"s":"Decile 6","x":2012,"y":0.26},{"s":"Decile 6","x":2015,"y":0.253},{"s":"Decile 6","x":2017,"y":0.243},{"s":"Decile 6","x":2019,"y":0.225},
{"s":"Decile 5","x":1979,"y":0.04},{"s":"Decile 5","x":1980,"y":-0.027},{"s":"Decile 5","x":1982,"y":-0.06},{"s":"Decile 5","x":1984,"y":-0.01},{"s":"Decile 5","x":1985.5,"y":-0.07},{"s":"Decile 5","x":1987,"y":-0.11},{"s":"Decile 5","x":1988.5,"y":-0.06},{"s":"Decile 5","x":1990,"y":0.025},{"s":"Decile 5","x":1992,"y":0.04},{"s":"Decile 5","x":1994,"y":0.074},{"s":"Decile 5","x":1995.5,"y":0.09},{"s":"Decile 5","x":1997,"y":0.057},{"s":"Decile 5","x":1999,"y":0.025},{"s":"Decile 5","x":2000,"y":0.04},{"s":"Decile 5","x":2000.5,"y":0.11},{"s":"Decile 5","x":2001.5,"y":0.04},{"s":"Decile 5","x":2003,"y":0.007},{"s":"Decile 5","x":2005,"y":0.007},{"s":"Decile 5","x":2007,"y":0.007},{"s":"Decile 5","x":2009,"y":0.015},{"s":"Decile 5","x":2010,"y":-0.02},{"s":"Decile 5","x":2011,"y":0.015},{"s":"Decile 5","x":2013,"y":0.007},{"s":"Decile 5","x":2015,"y":0.0},{"s":"Decile 5","x":2017,"y":-0.02},{"s":"Decile 5","x":2019,"y":-0.06},
{"s":"Decile 4","x":1979,"y":0.04},{"s":"Decile 4","x":1980,"y":0.007},{"s":"Decile 4","x":1982,"y":0.032},{"s":"Decile 4","x":1984,"y":0.055},{"s":"Decile 4","x":1985.5,"y":0.007},{"s":"Decile 4","x":1987,"y":-0.027},{"s":"Decile 4","x":1989,"y":-0.045},{"s":"Decile 4","x":1991,"y":-0.02},{"s":"Decile 4","x":1993,"y":-0.045},{"s":"Decile 4","x":1995,"y":-0.05},{"s":"Decile 4","x":1997,"y":-0.086},{"s":"Decile 4","x":1999,"y":-0.12},{"s":"Decile 4","x":2000,"y":-0.128},{"s":"Decile 4","x":2000.5,"y":-0.07},{"s":"Decile 4","x":2002,"y":-0.137},{"s":"Decile 4","x":2004,"y":-0.155},{"s":"Decile 4","x":2006,"y":-0.145},{"s":"Decile 4","x":2008,"y":-0.135},{"s":"Decile 4","x":2010,"y":-0.16},{"s":"Decile 4","x":2011,"y":-0.13},{"s":"Decile 4","x":2013,"y":-0.154},{"s":"Decile 4","x":2015,"y":-0.18},{"s":"Decile 4","x":2017,"y":-0.187},{"s":"Decile 4","x":2019,"y":-0.24},
{"s":"Decile 3","x":1979,"y":0.007},{"s":"Decile 3","x":1980,"y":-0.027},{"s":"Decile 3","x":1982,"y":-0.08},{"s":"Decile 3","x":1984,"y":-0.06},{"s":"Decile 3","x":1986,"y":-0.13},{"s":"Decile 3","x":1987,"y":-0.16},{"s":"Decile 3","x":1988.5,"y":-0.16},{"s":"Decile 3","x":1990,"y":-0.135},{"s":"Decile 3","x":1992,"y":-0.145},{"s":"Decile 3","x":1994,"y":-0.145},{"s":"Decile 3","x":1996,"y":-0.13},{"s":"Decile 3","x":1998,"y":-0.17},{"s":"Decile 3","x":2000,"y":-0.195},{"s":"Decile 3","x":2000.5,"y":-0.14},{"s":"Decile 3","x":2002,"y":-0.205},{"s":"Decile 3","x":2004,"y":-0.255},{"s":"Decile 3","x":2006,"y":-0.26},{"s":"Decile 3","x":2008,"y":-0.26},{"s":"Decile 3","x":2009.5,"y":-0.29},{"s":"Decile 3","x":2010.5,"y":-0.245},{"s":"Decile 3","x":2012,"y":-0.27},{"s":"Decile 3","x":2014,"y":-0.315},{"s":"Decile 3","x":2016,"y":-0.315},{"s":"Decile 3","x":2018,"y":-0.34},{"s":"Decile 3","x":2019,"y":-0.375},
{"s":"Decile 2","x":1979,"y":-0.01},{"s":"Decile 2","x":1980,"y":-0.06},{"s":"Decile 2","x":1980.5,"y":-0.14},{"s":"Decile 2","x":1981.5,"y":-0.085},{"s":"Decile 2","x":1983,"y":-0.085},{"s":"Decile 2","x":1984.5,"y":-0.16},{"s":"Decile 2","x":1986.5,"y":-0.195},{"s":"Decile 2","x":1987.5,"y":-0.21},{"s":"Decile 2","x":1988.5,"y":-0.128},{"s":"Decile 2","x":1990,"y":-0.135},{"s":"Decile 2","x":1992,"y":-0.12},{"s":"Decile 2","x":1994,"y":-0.13},{"s":"Decile 2","x":1996,"y":-0.154},{"s":"Decile 2","x":1998,"y":-0.19},{"s":"Decile 2","x":2000,"y":-0.23},{"s":"Decile 2","x":2000.5,"y":-0.16},{"s":"Decile 2","x":2002,"y":-0.23},{"s":"Decile 2","x":2004,"y":-0.28},{"s":"Decile 2","x":2006,"y":-0.28},{"s":"Decile 2","x":2008,"y":-0.297},{"s":"Decile 2","x":2009.5,"y":-0.355},{"s":"Decile 2","x":2010.5,"y":-0.29},{"s":"Decile 2","x":2012,"y":-0.315},{"s":"Decile 2","x":2014,"y":-0.365},{"s":"Decile 2","x":2016,"y":-0.373},{"s":"Decile 2","x":2018,"y":-0.4},{"s":"Decile 2","x":2019,"y":-0.44},
{"s":"Decile 1 (Bottom)","x":1979,"y":-0.02},{"s":"Decile 1 (Bottom)","x":1979.3,"y":0.065},{"s":"Decile 1 (Bottom)","x":1980,"y":0.0},{"s":"Decile 1 (Bottom)","x":1981,"y":-0.06},{"s":"Decile 1 (Bottom)","x":1982,"y":-0.08},{"s":"Decile 1 (Bottom)","x":1983,"y":-0.16},{"s":"Decile 1 (Bottom)","x":1984,"y":-0.245},{"s":"Decile 1 (Bottom)","x":1985,"y":-0.315},{"s":"Decile 1 (Bottom)","x":1986,"y":-0.365},{"s":"Decile 1 (Bottom)","x":1987,"y":-0.415},{"s":"Decile 1 (Bottom)","x":1988,"y":-0.405},{"s":"Decile 1 (Bottom)","x":1989,"y":-0.365},{"s":"Decile 1 (Bottom)","x":1990.5,"y":-0.34},{"s":"Decile 1 (Bottom)","x":1992,"y":-0.365},{"s":"Decile 1 (Bottom)","x":1994,"y":-0.45},{"s":"Decile 1 (Bottom)","x":1996,"y":-0.48},{"s":"Decile 1 (Bottom)","x":1998,"y":-0.54},{"s":"Decile 1 (Bottom)","x":1999.5,"y":-0.62},{"s":"Decile 1 (Bottom)","x":2000.2,"y":-0.69},{"s":"Decile 1 (Bottom)","x":2001,"y":-0.56},{"s":"Decile 1 (Bottom)","x":2001.5,"y":-0.71},{"s":"Decile 1 (Bottom)","x":2003,"y":-0.735},{"s":"Decile 1 (Bottom)","x":2005,"y":-0.75},{"s":"Decile 1 (Bottom)","x":2007,"y":-0.77},{"s":"Decile 1 (Bottom)","x":2009,"y":-0.835},{"s":"Decile 1 (Bottom)","x":2009.5,"y":-0.86},{"s":"Decile 1 (Bottom)","x":2010.5,"y":-0.785},{"s":"Decile 1 (Bottom)","x":2012,"y":-0.845},{"s":"Decile 1 (Bottom)","x":2014,"y":-0.905},{"s":"Decile 1 (Bottom)","x":2016,"y":-0.94},{"s":"Decile 1 (Bottom)","x":2018,"y":-0.99},{"s":"Decile 1 (Bottom)","x":2019,"y":-1.04}
],
"d":[
{"s":"Decile 10 (Top)","x":1979,"y":0.04},{"s":"Decile 10 (Top)","x":1980,"y":0.075},{"s":"Decile 10 (Top)","x":1981,"y":0.14},{"s":"Decile 10 (Top)","x":1982,"y":0.125},{"s":"Decile 10 (Top)","x":1983,"y":0.21},{"s":"Decile 10 (Top)","x":1984,"y":0.185},{"s":"Decile 10 (Top)","x":1985,"y":0.21},{"s":"Decile 10 (Top)","x":1986.5,"y":0.245},{"s":"Decile 10 (Top)","x":1987.5,"y":0.325},{"s":"Decile 10 (Top)","x":1988,"y":0.345},{"s":"Decile 10 (Top)","x":1988.5,"y":0.285},{"s":"Decile 10 (Top)","x":1990,"y":0.38},{"s":"Decile 10 (Top)","x":1992,"y":0.43},{"s":"Decile 10 (Top)","x":1994,"y":0.48},{"s":"Decile 10 (Top)","x":1995.5,"y":0.54},{"s":"Decile 10 (Top)","x":1997,"y":0.555},{"s":"Decile 10 (Top)","x":1998,"y":0.57},{"s":"Decile 10 (Top)","x":1999,"y":0.6},{"s":"Decile 10 (Top)","x":2000,"y":0.64},{"s":"Decile 10 (Top)","x":2000.5,"y":0.775},{"s":"Decile 10 (Top)","x":2001,"y":0.78},{"s":"Decile 10 (Top)","x":2001.5,"y":0.715},{"s":"Decile 10 (Top)","x":2003,"y":0.74},{"s":"Decile 10 (Top)","x":2005,"y":0.74},{"s":"Decile 10 (Top)","x":2006.5,"y":0.78},{"s":"Decile 10 (Top)","x":2008,"y":0.81},{"s":"Decile 10 (Top)","x":2009,"y":0.795},{"s":"Decile 10 (Top)","x":2010,"y":0.775},{"s":"Decile 10 (Top)","x":2012,"y":0.775},{"s":"Decile 10 (Top)","x":2014,"y":0.78},{"s":"Decile 10 (Top)","x":2016,"y":0.765},{"s":"Decile 10 (Top)","x":2017.5,"y":0.74},{"s":"Decile 10 (Top)","x":2019,"y":0.775},
{"s":"Decile 9","x":1979,"y":0.04},{"s":"Decile 9","x":1980,"y":0.04},{"s":"Decile 9","x":1981.5,"y":0.14},{"s":"Decile 9","x":1982.5,"y":0.22},{"s":"Decile 9","x":1983.5,"y":0.2},{"s":"Decile 9","x":1985,"y":0.16},{"s":"Decile 9","x":1986.5,"y":0.125},{"s":"Decile 9","x":1987.5,"y":0.185},{"s":"Decile 9","x":1988.5,"y":0.125},{"s":"Decile 9","x":1990,"y":0.16},{"s":"Decile 9","x":1992,"y":0.21},{"s":"Decile 9","x":1994,"y":0.285},{"s":"Decile 9","x":1996,"y":0.32},{"s":"Decile 9","x":1998,"y":0.345},{"s":"Decile 9","x":2000,"y":0.395},{"s":"Decile 9","x":2000.5,"y":0.455},{"s":"Decile 9","x":2001,"y":0.47},{"s":"Decile 9","x":2002,"y":0.42},{"s":"Decile 9","x":2004,"y":0.43},{"s":"Decile 9","x":2006,"y":0.445},{"s":"Decile 9","x":2008,"y":0.46},{"s":"Decile 9","x":2010,"y":0.435},{"s":"Decile 9","x":2012,"y":0.435},{"s":"Decile 9","x":2015,"y":0.42},{"s":"Decile 9","x":2017,"y":0.395},{"s":"Decile 9","x":2019,"y":0.4},
{"s":"Decile 8","x":1979,"y":0.025},{"s":"Decile 8","x":1980,"y":0.015},{"s":"Decile 8","x":1982,"y":0.11},{"s":"Decile 8","x":1984,"y":0.09},{"s":"Decile 8","x":1986,"y":0.085},{"s":"Decile 8","x":1988,"y":0.125},{"s":"Decile 8","x":1990,"y":0.142},{"s":"Decile 8","x":1992,"y":0.175},{"s":"Decile 8","x":1994,"y":0.218},{"s":"Decile 8","x":1996,"y":0.25},{"s":"Decile 8","x":1998,"y":0.26},{"s":"Decile 8","x":2000,"y":0.26},{"s":"Decile 8","x":2000.5,"y":0.31},{"s":"Decile 8","x":2001,"y":0.32},{"s":"Decile 8","x":2002,"y":0.275},{"s":"Decile 8","x":2004,"y":0.268},{"s":"Decile 8","x":2006,"y":0.277},{"s":"Decile 8","x":2008,"y":0.295},{"s":"Decile 8","x":2010,"y":0.277},{"s":"Decile 8","x":2012,"y":0.285},{"s":"Decile 8","x":2015,"y":0.277},{"s":"Decile 8","x":2017,"y":0.268},{"s":"Decile 8","x":2019,"y":0.25},
{"s":"Decile 7","x":1979,"y":0.025},{"s":"Decile 7","x":1980,"y":0.015},{"s":"Decile 7","x":1982,"y":0.04},{"s":"Decile 7","x":1984,"y":0.025},{"s":"Decile 7","x":1986,"y":0.025},{"s":"Decile 7","x":1988,"y":0.075},{"s":"Decile 7","x":1990,"y":0.115},{"s":"Decile 7","x":1992,"y":0.13},{"s":"Decile 7","x":1994,"y":0.165},{"s":"Decile 7","x":1996,"y":0.175},{"s":"Decile 7","x":1998,"y":0.185},{"s":"Decile 7","x":2000,"y":0.175},{"s":"Decile 7","x":2000.5,"y":0.22},{"s":"Decile 7","x":2002,"y":0.185},{"s":"Decile 7","x":2004,"y":0.16},{"s":"Decile 7","x":2006,"y":0.167},{"s":"Decile 7","x":2008,"y":0.175},{"s":"Decile 7","x":2009.5,"y":0.14},{"s":"Decile 7","x":2010.5,"y":0.175},{"s":"Decile 7","x":2012,"y":0.16},{"s":"Decile 7","x":2015,"y":0.15},{"s":"Decile 7","x":2017,"y":0.142},{"s":"Decile 7","x":2019,"y":0.125},
{"s":"Decile 6","x":1979,"y":0.025},{"s":"Decile 6","x":1980,"y":0.007},{"s":"Decile 6","x":1982,"y":0.025},{"s":"Decile 6","x":1984,"y":0.007},{"s":"Decile 6","x":1986,"y":-0.027},{"s":"Decile 6","x":1987.5,"y":-0.035},{"s":"Decile 6","x":1989,"y":-0.002},{"s":"Decile 6","x":1991,"y":0.032},{"s":"Decile 6","x":1993,"y":0.075},{"s":"Decile 6","x":1995,"y":0.1},{"s":"Decile 6","x":1997,"y":0.108},{"s":"Decile 6","x":1999,"y":0.091},{"s":"Decile 6","x":2000,"y":0.083},{"s":"Decile 6","x":2000.5,"y":0.167},{"s":"Decile 6","x":2002,"y":0.125},{"s":"Decile 6","x":2004,"y":0.115},{"s":"Decile 6","x":2006,"y":0.125},{"s":"Decile 6","x":2008,"y":0.133},{"s":"Decile 6","x":2009.5,"y":0.1},{"s":"Decile 6","x":2010.5,"y":0.135},{"s":"Decile 6","x":2012,"y":0.125},{"s":"Decile 6","x":2015,"y":0.117},{"s":"Decile 6","x":2017,"y":0.108},{"s":"Decile 6","x":2019,"y":0.075},
{"s":"Decile 5","x":1979,"y":0.025},{"s":"Decile 5","x":1980,"y":-0.01},{"s":"Decile 5","x":1982,"y":0.007},{"s":"Decile 5","x":1984,"y":-0.027},{"s":"Decile 5","x":1986,"y":-0.035},{"s":"Decile 5","x":1987.5,"y":-0.07},{"s":"Decile 5","x":1989,"y":-0.01},{"s":"Decile 5","x":1991,"y":0.04},{"s":"Decile 5","x":1993,"y":0.066},{"s":"Decile 5","x":1995,"y":0.075},{"s":"Decile 5","x":1997,"y":0.049},{"s":"Decile 5","x":1999,"y":0.025},{"s":"Decile 5","x":2000,"y":0.015},{"s":"Decile 5","x":2000.5,"y":0.075},{"s":"Decile 5","x":2001.5,"y":0.015},{"s":"Decile 5","x":2003,"y":-0.019},{"s":"Decile 5","x":2005,"y":-0.027},{"s":"Decile 5","x":2007,"y":-0.019},{"s":"Decile 5","x":2009.5,"y":-0.045},{"s":"Decile 5","x":2010.5,"y":-0.01},{"s":"Decile 5","x":2012,"y":-0.019},{"s":"Decile 5","x":2015,"y":-0.027},{"s":"Decile 5","x":2017,"y":-0.035},{"s":"Decile 5","x":2019,"y":-0.07},
{"s":"Decile 4","x":1979,"y":0.025},{"s":"Decile 4","x":1980,"y":0.007},{"s":"Decile 4","x":1982,"y":-0.002},{"s":"Decile 4","x":1983,"y":-0.01},{"s":"Decile 4","x":1985,"y":-0.045},{"s":"Decile 4","x":1986.5,"y":-0.095},{"s":"Decile 4","x":1987.5,"y":-0.11},{"s":"Decile 4","x":1988.5,"y":-0.045},{"s":"Decile 4","x":1990,"y":-0.027},{"s":"Decile 4","x":1992,"y":-0.019},{"s":"Decile 4","x":1994,"y":-0.01},{"s":"Decile 4","x":1996,"y":-0.027},{"s":"Decile 4","x":1998,"y":-0.06},{"s":"Decile 4","x":2000,"y":-0.1},{"s":"Decile 4","x":2000.5,"y":-0.05},{"s":"Decile 4","x":2002,"y":-0.1},{"s":"Decile 4","x":2004,"y":-0.128},{"s":"Decile 4","x":2006,"y":-0.137},{"s":"Decile 4","x":2008,"y":-0.12},{"s":"Decile 4","x":2009.5,"y":-0.17},{"s":"Decile 4","x":2010.5,"y":-0.128},{"s":"Decile 4","x":2012,"y":-0.15},{"s":"Decile 4","x":2015,"y":-0.162},{"s":"Decile 4","x":2017,"y":-0.187},{"s":"Decile 4","x":2019,"y":-0.23},
{"s":"Decile 3","x":1979,"y":0.032},{"s":"Decile 3","x":1980,"y":0.007},{"s":"Decile 3","x":1982,"y":-0.002},{"s":"Decile 3","x":1984,"y":-0.019},{"s":"Decile 3","x":1986,"y":-0.045},{"s":"Decile 3","x":1987.5,"y":-0.06},{"s":"Decile 3","x":1989,"y":-0.027},{"s":"Decile 3","x":1991,"y":-0.019},{"s":"Decile 3","x":1993,"y":-0.01},{"s":"Decile 3","x":1995,"y":0.0},{"s":"Decile 3","x":1997,"y":-0.01},{"s":"Decile 3","x":1999,"y":-0.027},{"s":"Decile 3","x":2000,"y":-0.045},{"s":"Decile 3","x":2000.5,"y":0.032},{"s":"Decile 3","x":2002,"y":-0.002},{"s":"Decile 3","x":2004,"y":-0.027},{"s":"Decile 3","x":2006,"y":-0.035},{"s":"Decile 3","x":2008,"y":-0.035},{"s":"Decile 3","x":2009.5,"y":-0.07},{"s":"Decile 3","x":2010.5,"y":-0.035},{"s":"Decile 3","x":2012,"y":-0.06},{"s":"Decile 3","x":2015,"y":-0.085},{"s":"Decile 3","x":2017,"y":-0.11},{"s":"Decile 3","x":2019,"y":-0.155},
{"s":"Decile 2","x":1979,"y":-0.01},{"s":"Decile 2","x":1980.7,"y":-0.137},{"s":"Decile 2","x":1981.2,"y":-0.078},{"s":"Decile 2","x":1982.3,"y":-0.06},{"s":"Decile 2","x":1983,"y":-0.086},{"s":"Decile 2","x":1984,"y":-0.128},{"s":"Decile 2","x":1986,"y":-0.187},{"s":"Decile 2","x":1987.5,"y":-0.23},{"s":"Decile 2","x":1988.5,"y":-0.196},{"s":"Decile 2","x":1990,"y":-0.17},{"s":"Decile 2","x":1992,"y":-0.204},{"s":"Decile 2","x":1994,"y":-0.196},{"s":"Decile 2","x":1996,"y":-0.22},{"s":"Decile 2","x":1998,"y":-0.255},{"s":"Decile 2","x":2000,"y":-0.315},{"s":"Decile 2","x":2000.5,"y":-0.21},{"s":"Decile 2","x":2002,"y":-0.28},{"s":"Decile 2","x":2004,"y":-0.32},{"s":"Decile 2","x":2006,"y":-0.32},{"s":"Decile 2","x":2008,"y":-0.34},{"s":"Decile 2","x":2009.5,"y":-0.39},{"s":"Decile 2","x":2010.5,"y":-0.33},{"s":"Decile 2","x":2012,"y":-0.364},{"s":"Decile 2","x":2015,"y":-0.405},{"s":"Decile 2","x":2017,"y":-0.43},{"s":"Decile 2","x":2019,"y":-0.465},
{"s":"Decile 1 (Bottom)","x":1979,"y":-0.095},{"s":"Decile 1 (Bottom)","x":1979.3,"y":0.0},{"s":"Decile 1 (Bottom)","x":1980,"y":-0.044},{"s":"Decile 1 (Bottom)","x":1981,"y":-0.06},{"s":"Decile 1 (Bottom)","x":1982,"y":-0.035},{"s":"Decile 1 (Bottom)","x":1983,"y":-0.128},{"s":"Decile 1 (Bottom)","x":1984,"y":-0.195},{"s":"Decile 1 (Bottom)","x":1985,"y":-0.263},{"s":"Decile 1 (Bottom)","x":1986,"y":-0.347},{"s":"Decile 1 (Bottom)","x":1987,"y":-0.415},{"s":"Decile 1 (Bottom)","x":1988,"y":-0.406},{"s":"Decile 1 (Bottom)","x":1989,"y":-0.34},{"s":"Decile 1 (Bottom)","x":1990,"y":-0.322},{"s":"Decile 1 (Bottom)","x":1991,"y":-0.347},{"s":"Decile 1 (Bottom)","x":1992,"y":-0.37},{"s":"Decile 1 (Bottom)","x":1994,"y":-0.44},{"s":"Decile 1 (Bottom)","x":1996,"y":-0.5},{"s":"Decile 1 (Bottom)","x":1998,"y":-0.59},{"s":"Decile 1 (Bottom)","x":1999.5,"y":-0.626},{"s":"Decile 1 (Bottom)","x":2000.2,"y":-0.693},{"s":"Decile 1 (Bottom)","x":2001,"y":-0.55},{"s":"Decile 1 (Bottom)","x":2001.5,"y":-0.65},{"s":"Decile 1 (Bottom)","x":2002,"y":-0.7},{"s":"Decile 1 (Bottom)","x":2004,"y":-0.75},{"s":"Decile 1 (Bottom)","x":2006,"y":-0.76},{"s":"Decile 1 (Bottom)","x":2008,"y":-0.81},{"s":"Decile 1 (Bottom)","x":2009.5,"y":-0.88},{"s":"Decile 1 (Bottom)","x":2010.5,"y":-0.82},{"s":"Decile 1 (Bottom)","x":2012,"y":-0.87},{"s":"Decile 1 (Bottom)","x":2014,"y":-0.955},{"s":"Decile 1 (Bottom)","x":2016,"y":-1.0},{"s":"Decile 1 (Bottom)","x":2018,"y":-1.056},{"s":"Decile 1 (Bottom)","x":2019,"y":-1.107}
]
},
"vconcat":[
{"hconcat":[
{"width":500,"height":415,"data":{"name":"a"},"title":{"text":"(a) Stock-specific characteristics"},
"layer":[
{"mark":{"type":"line","strokeWidth":2,"clip":true},"encoding":{
"x":{"field":"x","type":"quantitative","scale":{"domain":[1978.1,2021.6],"nice":false,"zero":false},"axis":{"values":[1980,1985,1990,1995,2000,2005,2010,2015,2020],"format":"d","title":null}},
"y":{"field":"y","type":"quantitative","scale":{"domain":[-1.25,0.846],"nice":false,"zero":false},"axis":{"values":[-1.25,-1,-0.75,-0.5,-0.25,0,0.25,0.5,0.75],"format":".2f","title":"Cumulative abnormal return"}},
"color":{"field":"s","type":"nominal","scale":{"domain":["Decile 10 (Top)","Decile 9","Decile 8","Decile 7","Decile 6","Decile 5","Decile 4","Decile 3","Decile 2","Decile 1 (Bottom)"],"range":["#000000","#ffa51f","#1f2ee0","#86b6f2","#f2553c","#1f6e9e","#ffff1a","#c982b0","#5f8a3a","#cc22f0"]},"legend":null}}},
{"mark":{"type":"line","opacity":0},"encoding":{
"x":{"field":"x","type":"quantitative","scale":{"domain":[1978.1,2021.6],"nice":false,"zero":false},"axis":{"orient":"top","values":[1980,1985,1990,1995,2000,2005,2010,2015,2020],"labels":false,"title":null}},
"y":{"field":"y","type":"quantitative","scale":{"domain":[-1.25,0.846],"nice":false,"zero":false},"axis":{"orient":"right","values":[-1.25,-1,-0.75,-0.5,-0.25,0,0.25,0.5,0.75],"labels":false,"title":null}}}}
],
"resolve":{"axis":{"x":"independent","y":"independent"}}},
{"width":500,"height":415,"data":{"name":"b"},"title":{"text":"(b) Stocks-specific characteristics + sentiment"},
"layer":[
{"mark":{"type":"line","strokeWidth":2,"clip":true},"encoding":{
"x":{"field":"x","type":"quantitative","scale":{"domain":[1978.1,2021.6],"nice":false,"zero":false},"axis":{"values":[1980,1985,1990,1995,2000,2005,2010,2015,2020],"format":"d","title":null}},
"y":{"field":"y","type":"quantitative","scale":{"domain":[-1.25,0.846],"nice":false,"zero":false},"axis":{"values":[-1.25,-1,-0.75,-0.5,-0.25,0,0.25,0.5,0.75],"format":".2f","title":"Cumulative abnormal return"}},
"color":{"field":"s","type":"nominal","scale":{"domain":["Decile 10 (Top)","Decile 9","Decile 8","Decile 7","Decile 6","Decile 5","Decile 4","Decile 3","Decile 2","Decile 1 (Bottom)"],"range":["#000000","#ffa51f","#1f2ee0","#86b6f2","#f2553c","#1f6e9e","#ffff1a","#c982b0","#5f8a3a","#cc22f0"]},"legend":null}}},
{"mark":{"type":"line","opacity":0},"encoding":{
"x":{"field":"x","type":"quantitative","scale":{"domain":[1978.1,2021.6],"nice":false,"zero":false},"axis":{"orient":"top","values":[1980,1985,1990,1995,2000,2005,2010,2015,2020],"labels":false,"title":null}},
"y":{"field":"y","type":"quantitative","scale":{"domain":[-1.25,0.846],"nice":false,"zero":false},"axis":{"orient":"right","values":[-1.25,-1,-0.75,-0.5,-0.25,0,0.25,0.5,0.75],"labels":false,"title":null}}}}
],
"resolve":{"axis":{"x":"independent","y":"independent"}}}
],"spacing":47,"resolve":{"scale":{"color":"independent"},"legend":{"color":"independent"}}},
{"hconcat":[
{"width":500,"height":415,"data":{"name":"c"},"title":{"text":"(c) Fund-specific characteristics"},
"layer":[
{"mark":{"type":"line","strokeWidth":2,"clip":true},"encoding":{
"x":{"field":"x","type":"quantitative","scale":{"domain":[1978.1,2021.6],"nice":false,"zero":false},"axis":{"values":[1980,1985,1990,1995,2000,2005,2010,2015,2020],"format":"d","title":null}},
"y":{"field":"y","type":"quantitative","scale":{"domain":[-1.25,0.846],"nice":false,"zero":false},"axis":{"values":[-1.25,-1,-0.75,-0.5,-0.25,0,0.25,0.5,0.75],"format":".2f","title":"Cumulative abnormal return"}},
"color":{"field":"s","type":"nominal","scale":{"domain":["Decile 10 (Top)","Decile 9","Decile 8","Decile 7","Decile 6","Decile 5","Decile 4","Decile 3","Decile 2","Decile 1 (Bottom)"],"range":["#000000","#ffa51f","#1f2ee0","#86b6f2","#f2553c","#1f6e9e","#ffff1a","#c982b0","#5f8a3a","#cc22f0"]},"legend":null}}},
{"mark":{"type":"line","opacity":0},"encoding":{
"x":{"field":"x","type":"quantitative","scale":{"domain":[1978.1,2021.6],"nice":false,"zero":false},"axis":{"orient":"top","values":[1980,1985,1990,1995,2000,2005,2010,2015,2020],"labels":false,"title":null}},
"y":{"field":"y","type":"quantitative","scale":{"domain":[-1.25,0.846],"nice":false,"zero":false},"axis":{"orient":"right","values":[-1.25,-1,-0.75,-0.5,-0.25,0,0.25,0.5,0.75],"labels":false,"title":null}}}}
],
"resolve":{"axis":{"x":"independent","y":"independent"}}},
{"width":500,"height":415,"data":{"name":"d"},"title":{"text":"(d) Fund-specific characteristics + sentiment"},
"layer":[
{"mark":{"type":"line","strokeWidth":2,"clip":true},"encoding":{
"x":{"field":"x","type":"quantitative","scale":{"domain":[1978.1,2021.6],"nice":false,"zero":false},"axis":{"values":[1980,1985,1990,1995,2000,2005,2010,2015,2020],"format":"d","title":null}},
"y":{"field":"y","type":"quantitative","scale":{"domain":[-1.25,0.846],"nice":false,"zero":false},"axis":{"values":[-1.25,-1,-0.75,-0.5,-0.25,0,0.25,0.5,0.75],"format":".2f","title":"Cumulative abnormal return"}},
"color":{"field":"s","type":"nominal","scale":{"domain":["Decile 10 (Top)","Decile 9","Decile 8","Decile 7","Decile 6","Decile 5","Decile 4","Decile 3","Decile 2","Decile 1 (Bottom)"],"range":["#000000","#ffa51f","#1f2ee0","#86b6f2","#f2553c","#1f6e9e","#ffff1a","#c982b0","#5f8a3a","#cc22f0"]},
"legend":{"title":null,"orient":"bottom-left","offset":4,"fillColor":"#ffffff","strokeColor":"#cccccc","cornerRadius":4,"padding":5,"rowPadding":1,"symbolType":"M-1.5,0H1.5","symbolSize":361,"symbolStrokeWidth":2.5,"symbolOffset":5,"labelOffset":12,"labelFontSize":13,"labelColor":"#2a4060"}}}},
{"mark":{"type":"line","opacity":0},"encoding":{
"x":{"field":"x","type":"quantitative","scale":{"domain":[1978.1,2021.6],"nice":false,"zero":false},"axis":{"orient":"top","values":[1980,1985,1990,1995,2000,2005,2010,2015,2020],"labels":false,"title":null}},
"y":{"field":"y","type":"quantitative","scale":{"domain":[-1.25,0.846],"nice":false,"zero":false},"axis":{"orient":"right","values":[-1.25,-1,-0.75,-0.5,-0.25,0,0.25,0.5,0.75],"labels":false,"title":null}}}}
],
"resolve":{"axis":{"x":"independent","y":"independent"}}}
],"spacing":24,"resolve":{"scale":{"color":"independent"},"legend":{"color":"independent"}}}
],
"spacing":34,
"resolve":{"scale":{"color":"independent"},"legend":{"color":"independent"}}
}
